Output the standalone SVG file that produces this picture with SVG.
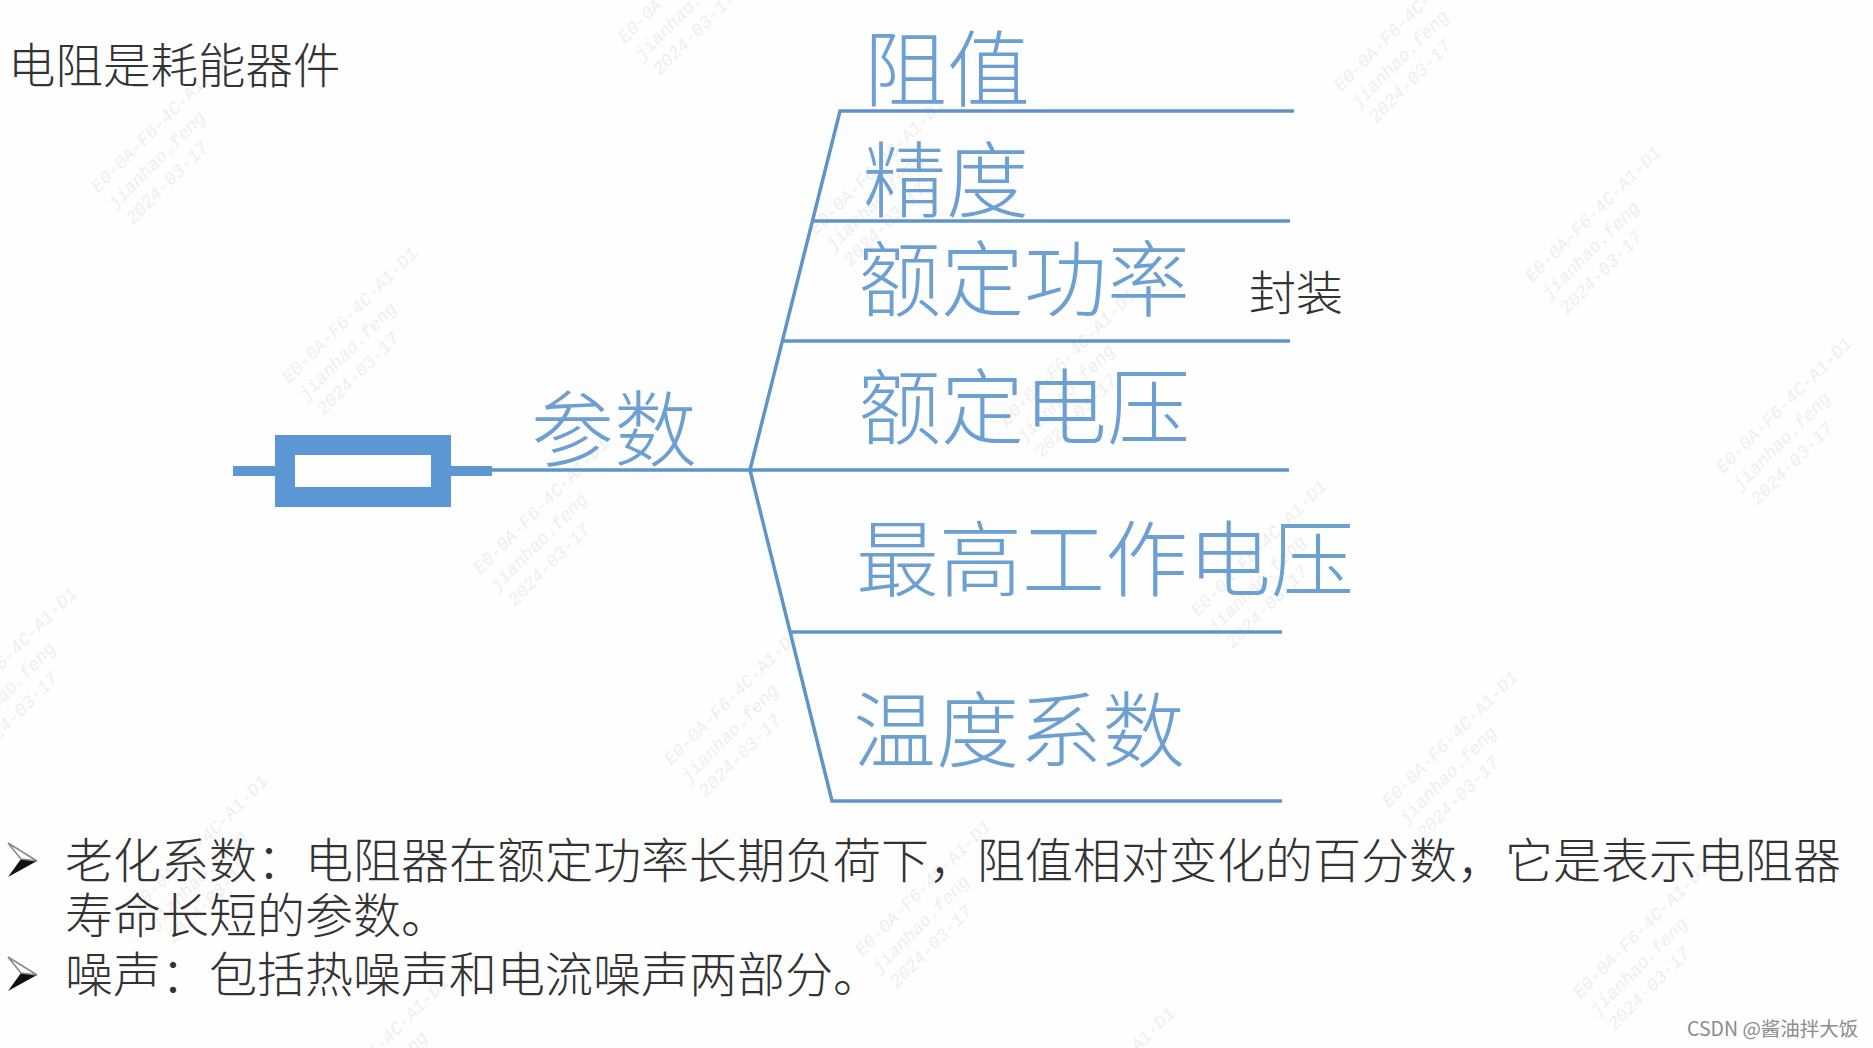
<svg xmlns="http://www.w3.org/2000/svg" width="1873" height="1048" viewBox="0 0 1873 1048">
<style>
text{font-family:"Noto Sans CJK SC","Noto Sans CJK TC",sans-serif}
.wm text{font-family:"Liberation Mono",monospace;font-style:italic;font-size:18px;fill:#eeeeee}
.big{font-size:83px;fill:#6c9fd2;font-weight:300}
.blk{font-size:48px;fill:#333;font-weight:300}
.ln{stroke:#6094c9;stroke-width:3.5;fill:none}
.res{fill:#5b97d3}
</style>
<defs>
<g id="wm" class="wm" transform="rotate(-45)">
<text x="0" y="0">E0-0A-F6-4C-A1-D1</text>
<text x="0" y="24">jianhao.feng</text>
<text x="2" y="47">2024-03-17</text>
</g>
<polygon id="bul" points="0,0 29,18 0,34 13,16" fill="#111"/>
<polygon id="bulTop" points="0,0 29,18 13,16" fill="#fff" stroke="#888" stroke-width="1.5"/>
</defs>
<rect width="1873" height="1048" fill="#fefefe"/>
<g id="watermarks">
<use href="#wm" transform="translate(98,193)"/>
<use href="#wm" transform="translate(289,384)"/>
<use href="#wm" transform="translate(480,575)"/>
<use href="#wm" transform="translate(671,766)"/>
<use href="#wm" transform="translate(862,957)"/>
<use href="#wm" transform="translate(1046,1144)"/>
<use href="#wm" transform="translate(625,44)"/>
<use href="#wm" transform="translate(816,235)"/>
<use href="#wm" transform="translate(1007,426)"/>
<use href="#wm" transform="translate(1198,617)"/>
<use href="#wm" transform="translate(1389,808)"/>
<use href="#wm" transform="translate(1580,999)"/>
<use href="#wm" transform="translate(1341,92)"/>
<use href="#wm" transform="translate(1532,283)"/>
<use href="#wm" transform="translate(1723,474)"/>
<use href="#wm" transform="translate(-52,724)"/>
<use href="#wm" transform="translate(139,912)"/>
<use href="#wm" transform="translate(320,1113)"/>
</g>
<g id="connectors">
<path class="ln" d="M492 470H1289"/>
<path class="ln" d="M750 470L840 111H1294"/>
<path class="ln" d="M813 221H1290"/>
<path class="ln" d="M782 341H1290"/>
<path class="ln" d="M750 470L832 801H1282"/>
<path class="ln" d="M791 632H1282"/>
</g>
<g id="title"><text x="8" y="83" font-size="47.5" fill="#333" font-weight="300">电阻是耗能器件</text></g>
<g id="resistor">
<rect class="res" x="233" y="466" width="259" height="10"/>
<rect class="res" x="275" y="435" width="176" height="72"/>
<rect x="295" y="455" width="136" height="32" fill="#fefefe"/>
</g>
<g id="node-canshu"><text class="big" x="531" y="460">参数</text></g>
<g id="node-zuzhi"><text class="big" x="864" y="100">阻值</text></g>
<g id="node-jingdu"><text class="big" x="863" y="211">精度</text></g>
<g id="node-edinggonglv"><text class="big" x="858" y="310">额定功率</text></g>
<g id="node-fengzhuang"><text x="1249" y="310" font-size="47" fill="#333" font-weight="300">封装</text></g>
<g id="node-edingdianya"><text class="big" x="858" y="438">额定电压</text></g>
<g id="node-zuigao"><text class="big" x="856" y="590">最高工作电压</text></g>
<g id="node-wendu"><text class="big" x="853" y="761">温度系数</text></g>
<g id="notes">
<use href="#bul" transform="translate(8,843)"/><use href="#bulTop" transform="translate(8,843)"/>
<text class="blk" x="65" y="878">老化系数：电阻器在额定功率长期负荷下，阻值相对变化的百分数，它是表示电阻器</text>
<text class="blk" x="65" y="933">寿命长短的参数。</text>
<use href="#bul" transform="translate(8,957)"/><use href="#bulTop" transform="translate(8,957)"/>
<text class="blk" x="65" y="992">噪声：包括热噪声和电流噪声两部分。</text>
</g>
<g id="credit"><text x="1687" y="1036" font-size="19.5" fill="#8c8c8c">CSDN @酱油拌大饭</text></g>
</svg>
